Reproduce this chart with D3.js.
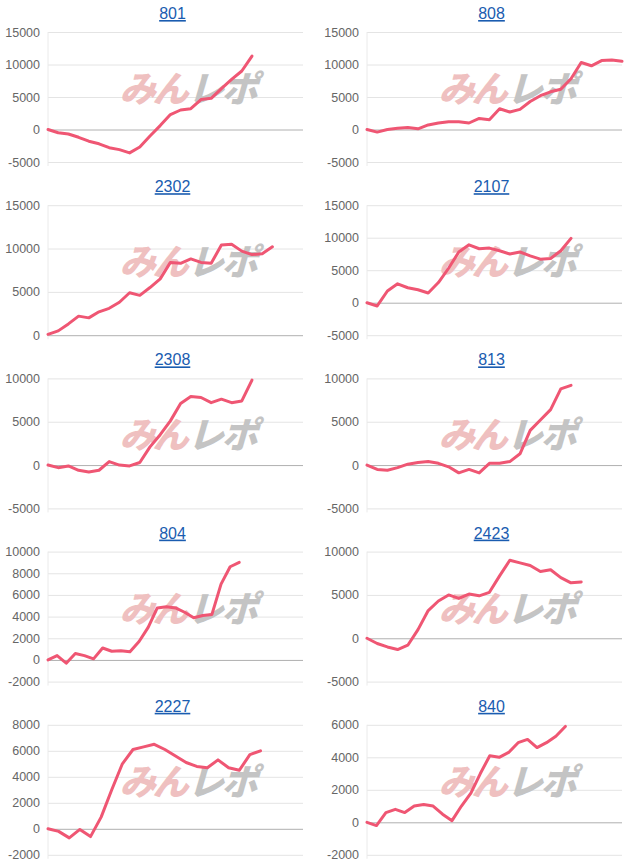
<!DOCTYPE html>
<html><head><meta charset="utf-8">
<script src="https://cdn.jsdelivr.net/npm/d3@7"></script>
<style>body{margin:0;background:#fff}</style></head>
<body><svg id="c" width="634" height="865"></svg>
<script>
const titles = ["801","808","2302","2107","2308","813","804","2423","2227","840"];
const slots = [26,26,26,26,26,26,29,26,25,28];
const yTicks = [
  [-5000,0,5000,10000,15000],[-5000,0,5000,10000,15000],
  [0,5000,10000,15000],[-5000,0,5000,10000,15000],
  [-5000,0,5000,10000],[-5000,0,5000,10000],
  [-2000,0,2000,4000,6000,8000,10000],[-5000,0,5000,10000],
  [-2000,0,2000,4000,6000,8000],[-2000,0,2000,4000,6000]
];
const s801 = [0,-500,-700,-1200,-1800,-2200,-2800,-3100,-3600,-2700,-1000,600,2300,3000,3200,4600,4800,6300,7700,9000,11300];
const s808 = [0,-400,0,200,300,100,700,1000,1200,1200,1000,1700,1500,3200,2700,3100,4300,5200,5800,6200,7800,10300,9800,10600,10700,10500];
const s2302 = [100,500,1300,2200,2000,2700,3100,3800,4900,4600,5500,6500,8400,8300,8800,8400,8300,10400,10500,9700,9300,9400,10200];
const s2107 = [0,-500,1800,2900,2300,2000,1500,3100,5300,7800,8900,8300,8400,8000,7500,7800,7200,6700,6800,8000,9900];
const s2308 = [0,-300,-100,-600,-800,-600,400,0,-100,300,2100,3500,5100,7100,7900,7800,7200,7600,7200,7400,9800];
const s813 = [0,-500,-600,-300,100,300,400,200,-200,-900,-500,-900,200,200,400,1300,4000,5200,6400,8800,9200];
const s804 = [0,400,-300,600,400,100,1100,800,850,750,1700,3000,4800,4900,4800,4400,3900,4100,4200,7000,8600,9000];
const s2423 = [0,-600,-1000,-1300,-800,1000,3200,4300,5000,4600,5100,4900,5300,7200,9000,8700,8400,7700,7900,7000,6400,6500];
const s2227 = [0,-200,-700,-50,-600,900,3000,5000,6100,6300,6500,6100,5600,5100,4800,4700,5300,4700,4500,5700,6000];
const s840 = [0,-200,600,800,600,1000,1100,1000,500,100,1000,1800,3000,4100,4000,4300,4900,5100,4600,4900,5300,5900];
const series = [s801,s808,s2302,s2107,s2308,s813,s804,s2423,s2227,s840];

const svg = d3.select("#c");
series.forEach((vals,i)=>{
  const col = i%2, row = Math.floor(i/2);
  const x0 = col? 367:48, x1 = col? 622:303;
  const top = 32 + row*173.2, bot = top+130;
  const t = yTicks[i];
  const x = d3.scaleLinear().domain([0,slots[i]-1]).range([x0,x1]);
  const y = d3.scaleLinear().domain([t[0],t[t.length-1]]).range([bot,top]);
  const g = svg.append("g");
  g.append("text").attr("x",(x0+x1)/2-3).attr("y",top-13).attr("text-anchor","middle")
    .attr("font-family","Helvetica, Arial, 'Liberation Sans', sans-serif").attr("font-size",16)
    .attr("fill","#1a5cb0").attr("text-decoration","underline").text(titles[i]);
  const ax = g.append("g").attr("transform",`translate(${x0},0)`)
    .call(d3.axisLeft(y).tickValues(t).tickSize(-(x1-x0)).tickPadding(8).tickFormat(d=>String(d)));
  ax.select(".domain").remove();
  ax.selectAll(".tick line").attr("stroke",d=>d===0?"#b0b0b0":"#e4e4e4");
  ax.selectAll(".tick text").attr("fill","#666").attr("font-size",12.5)
    .attr("font-family","Helvetica, Arial, 'Liberation Sans', sans-serif");
  g.append("line").attr("x1",x0).attr("x2",x0).attr("y1",top).attr("y2",bot+4).attr("stroke","#eaeaea");
  const cx = (x0+x1)/2 + 10, cy = top+70;
  const wm = g.append("g").attr("transform",`translate(${cx},${cy}) skewX(-16)`);
  wm.append("text").attr("x",0).attr("text-anchor","end").attr("font-family","'Noto Sans CJK JP'")
    .attr("font-weight",900).attr("font-size",36).attr("letter-spacing",-3).attr("fill","#efc0c0").text("みん");
  wm.append("text").attr("x",2).attr("text-anchor","start").attr("font-family","'Noto Sans CJK JP'")
    .attr("font-weight",900).attr("font-size",36).attr("letter-spacing",-2).attr("fill","#c4c4c4").text("レポ");
  g.append("path").datum(vals).attr("fill","none").attr("stroke","#ef5673").attr("stroke-width",3)
    .attr("stroke-linejoin","round").attr("stroke-linecap","round")
    .attr("d",d3.line().x((d,k)=>x(k)).y(d=>y(d)));
});
</script></body></html>
